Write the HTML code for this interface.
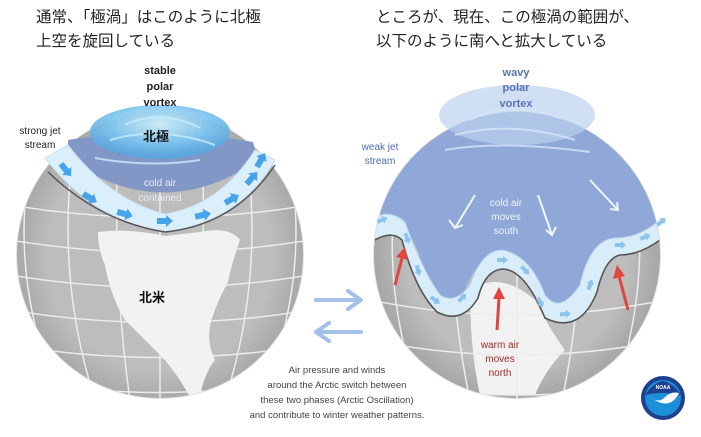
<!DOCTYPE html>
<html><head><meta charset="utf-8"><style>
body{margin:0;background:#fff;width:701px;height:437px;overflow:hidden}
svg{display:block}
</style></head><body>
<svg width="701" height="437" viewBox="0 0 701 437" xmlns="http://www.w3.org/2000/svg">
<defs>
<radialGradient id="gl" cx="0.5" cy="0.5" r="0.5"><stop offset="0.75" stop-color="#bdbdbd"/><stop offset="1" stop-color="#a3a3a3"/></radialGradient>
<radialGradient id="cap" cx="0.5" cy="0.35" r="0.6"><stop offset="0" stop-color="#cdeefc"/><stop offset="0.6" stop-color="#7cc4ee"/><stop offset="1" stop-color="#5aa6de"/></radialGradient>
<clipPath id="cl"><circle cx="160" cy="255" r="143"/></clipPath>
<clipPath id="cr"><circle cx="517" cy="255" r="143"/></clipPath>
<g id="arr"><path d="M-8,-3 L1,-3 L1,-6 L8,0 L1,6 L1,3 L-8,3 Z" fill="#46a4ea"/></g>
<g id="sarr"><path d="M-5,-2 L1,-2 L1,-4 L6,0 L1,4 L1,2 L-5,2 Z" fill="#8cc4ec"/></g>
</defs>
<g font-family="'Liberation Sans','Noto Sans CJK JP',sans-serif" font-size="15.5" fill="#222">
<text x="36" y="22">通常、「極渦」はこのように北極</text>
<text x="36" y="46">上空を旋回している</text>
<text x="376" y="22">ところが、現在、この極渦の範囲が、</text>
<text x="376" y="46">以下のように南へと拡大している</text>
</g>
<!-- left globe -->
<circle cx="160" cy="255" r="144" fill="#e4e4e4"/>
<g clip-path="url(#cl)">
<rect x="10" y="100" width="300" height="310" fill="url(#gl)"/>
<g stroke="#ececec" stroke-width="1.5" fill="none">
<path d="M40,120 Q0,260 60,400 M80,110 Q50,260 95,400 M120,110 Q110,260 130,400 M160,110 L160,400 M200,110 Q210,260 190,400 M240,110 Q270,260 225,400 M280,120 Q320,260 260,400"/>
<path d="M10,240 Q160,265 310,240 M10,275 Q160,300 310,275 M10,310 Q160,335 310,310 M10,345 Q160,370 310,345 M10,380 Q160,405 310,380 M10,205 Q160,230 310,205"/>
</g>
<path d="M98,232 Q130,228 165,236 L200,232 Q230,226 240,240 Q232,262 228,282 Q218,300 212,318 Q205,340 215,360 Q205,372 200,395 L190,397 Q175,370 160,355 Q140,335 125,320 Q110,295 105,265 Q98,250 98,232 Z" fill="#f2f2f2"/>
</g>
<path d="M68,140 Q160,125 253,142 L258,160 Q165,225 68,160 Z" fill="#8397c6"/>
<ellipse cx="160" cy="132" rx="70" ry="27" fill="url(#cap)" opacity="0.92"/>
<g fill="none" stroke="#c8ecfb" stroke-width="2" opacity="0.8">
<path d="M125,125 Q160,108 200,128"/><path d="M110,140 Q160,125 215,145"/><path d="M95,158 Q150,168 200,160"/>
</g>
<path d="M45,158 L68,145 Q110,200 165,214 Q220,205 255,150 L275,160 Q240,222 165,232 Q95,222 45,158 Z" fill="#dbeefb" stroke="#c7def0"/>
<path d="M48,172 Q100,222 165,232 Q235,225 275,165" fill="none" stroke="#555" stroke-width="1.5"/>
<use href="#arr" transform="translate(66,170) rotate(50)"/>
<use href="#arr" transform="translate(90,198) rotate(32)"/>
<use href="#arr" transform="translate(125,214) rotate(15)"/>
<use href="#arr" transform="translate(165,221)"/>
<use href="#arr" transform="translate(203,215) rotate(-12)"/>
<use href="#arr" transform="translate(232,199) rotate(-30)"/>
<use href="#arr" transform="translate(252,178) rotate(-48)"/>
<use href="#arr" transform="translate(261,160) rotate(-60)"/>
<g font-family="'Liberation Sans','Noto Sans CJK JP',sans-serif" font-weight="bold" text-anchor="middle">
<text x="160" y="74" font-size="11" fill="#222">stable</text>
<text x="160" y="90" font-size="11" fill="#222">polar</text>
<text x="160" y="106" font-size="11" fill="#222">vortex</text>
<text x="156" y="141" font-size="13" fill="#111">北極</text>
<text x="152" y="302" font-size="13" fill="#111">北米</text>
</g>
<g font-family="'Liberation Sans',sans-serif" font-size="10" text-anchor="middle">
<text x="40" y="134" fill="#222">strong jet</text><text x="40" y="148" fill="#222">stream</text>
<text x="160" y="186" fill="#e4ecf7">cold air</text><text x="160" y="201" fill="#e4ecf7">contained</text>
</g>
<!-- right globe -->
<circle cx="517" cy="255" r="144" fill="#e4e4e4"/>
<g clip-path="url(#cr)">
<rect x="370" y="100" width="295" height="305" fill="url(#gl)"/>
<path d="M470,290 Q500,270 535,300 Q550,330 565,350 Q545,370 535,395 L480,395 Q470,350 470,290 Z" fill="#f2f2f2"/>
<g stroke="#ececec" stroke-width="1.5" fill="none">
<path d="M410,120 Q370,260 420,400 M460,110 Q440,260 470,400 M517,110 L517,400 M572,110 Q592,260 562,400 M622,120 Q662,260 612,400"/>
<path d="M370,300 Q517,330 665,300 M370,340 Q517,370 665,340 M370,380 Q517,410 665,380"/>
</g>
<path d="M360,100 L680,100 L680,215 Q650,240 620,245 Q595,250 590,285 Q570,320 545,300 Q525,255 500,255 Q475,260 465,290 Q450,312 430,290 Q415,230 395,217 Q380,212 365,228 Z" fill="#8fa8d8"/>
<path d="M365,225 Q385,205 405,222 Q422,270 440,295 Q455,305 470,285 Q482,250 502,250 Q530,255 545,295 Q560,315 580,285 Q590,240 615,238 Q645,238 670,210 L672,230 Q645,255 620,255 Q605,258 597,292 Q580,335 545,318 Q525,270 503,269 Q485,270 478,298 Q462,325 437,312 Q415,290 402,240 Q390,228 365,246 Z" fill="#d9ecfa" stroke="#b7d5ee"/>
<path d="M365,246 Q390,228 402,240 Q415,290 437,312 Q462,325 478,298 Q485,270 503,269 Q525,270 545,318 Q580,335 597,292 Q605,258 620,255 Q645,255 672,230" fill="none" stroke="#555" stroke-width="1.6"/>
</g>
<ellipse cx="517" cy="115" rx="78" ry="30" fill="#bcd1ef" opacity="0.7"/>
<g fill="none" stroke="#d6e6f8" stroke-width="2" opacity="0.8">
<path d="M470,120 Q510,100 560,118"/><path d="M455,135 Q510,120 575,140"/><path d="M445,150 Q500,140 590,152"/>
</g>
<g>
<use href="#sarr" transform="translate(382,220) rotate(-20)"/>
<use href="#sarr" transform="translate(407,238) rotate(70)"/>
<use href="#sarr" transform="translate(418,270) rotate(75)"/>
<use href="#sarr" transform="translate(435,300) rotate(35)"/>
<use href="#sarr" transform="translate(462,298) rotate(-45)"/>
<use href="#sarr" transform="translate(502,260)"/>
<use href="#sarr" transform="translate(525,270) rotate(45)"/>
<use href="#sarr" transform="translate(540,302) rotate(60)"/>
<use href="#sarr" transform="translate(565,314) rotate(-5)"/>
<use href="#sarr" transform="translate(590,285) rotate(-70)"/>
<use href="#sarr" transform="translate(620,245)"/>
<use href="#sarr" transform="translate(645,237) rotate(-20)"/>
<use href="#sarr" transform="translate(661,222) rotate(-40)"/>
</g>
<g stroke="#eef6fd" stroke-width="2" fill="none">
<path d="M475,195 L455,228 M449,220 L455,228 L463,225"/>
<path d="M538,195 L552,235 M546,230 L552,235 L556,227"/>
<path d="M590,180 L618,210 M610,209 L618,210 L617,202"/>
</g>
<g stroke="#e0463f" stroke-width="3" fill="#e0463f">
<path d="M395,285 L402,258" fill="none"/><path d="M396,257 L408,260 L405,247 Z" stroke="none"/>
<path d="M497,330 L499,298" fill="none"/><path d="M493,299 L505,299 L499,287 Z" stroke="none"/>
<path d="M628,310 L619,276" fill="none"/><path d="M613,279 L625,276 L617,265 Z" stroke="none"/>
</g>
<g font-family="'Liberation Sans',sans-serif" font-size="10" text-anchor="middle">
<text x="516" y="76" font-size="11" font-weight="bold" fill="#5b73b3">wavy</text>
<text x="516" y="91" font-size="11" font-weight="bold" fill="#5b73b3">polar</text>
<text x="516" y="107" font-size="11" font-weight="bold" fill="#5b73b3">vortex</text>
<text x="380" y="150" fill="#4e6bb3">weak jet</text><text x="380" y="164" fill="#4e6bb3">stream</text>
<text x="506" y="206" fill="#eef4fb">cold air</text><text x="506" y="220" fill="#eef4fb">moves</text><text x="506" y="234" fill="#eef4fb">south</text>
<text x="500" y="348" fill="#9b2a28">warm air</text><text x="500" y="362" fill="#9b2a28">moves</text><text x="500" y="376" fill="#9b2a28">north</text>
</g>
<!-- switch arrows -->
<path d="M316,300 L360,300 M348,291 L361,300 L348,309" stroke="#a3c0e8" stroke-width="4" fill="none" stroke-linecap="round" stroke-linejoin="round"/>
<path d="M361,332 L317,332 M329,323 L316,332 L329,341" stroke="#a3c0e8" stroke-width="4" fill="none" stroke-linecap="round" stroke-linejoin="round"/>
<g font-family="'Liberation Sans',sans-serif" font-size="9.5" fill="#444" text-anchor="middle">
<text x="337" y="373">Air pressure and winds</text>
<text x="337" y="388">around the Arctic switch between</text>
<text x="337" y="403">these two phases (Arctic Oscillation)</text>
<text x="337" y="418">and contribute to winter weather patterns.</text>
</g>
<!-- NOAA logo -->
<circle cx="663" cy="398" r="22" fill="#1f3f8f"/>
<circle cx="663" cy="398" r="18" fill="#1b8fd8"/>
<path d="M645,395 Q663,391 681,395 Q673,383 663,381 Q653,383 645,395 Z" fill="#1f3f8f"/>
<path d="M648,395 Q658,405 665,397 Q671,391 679,393 Q669,413 648,395 Z" fill="#fff"/>
<text x="663" y="389" font-family="'Liberation Sans',sans-serif" font-size="5" fill="#fff" text-anchor="middle" font-weight="bold">NOAA</text>
</svg>
</body></html>
